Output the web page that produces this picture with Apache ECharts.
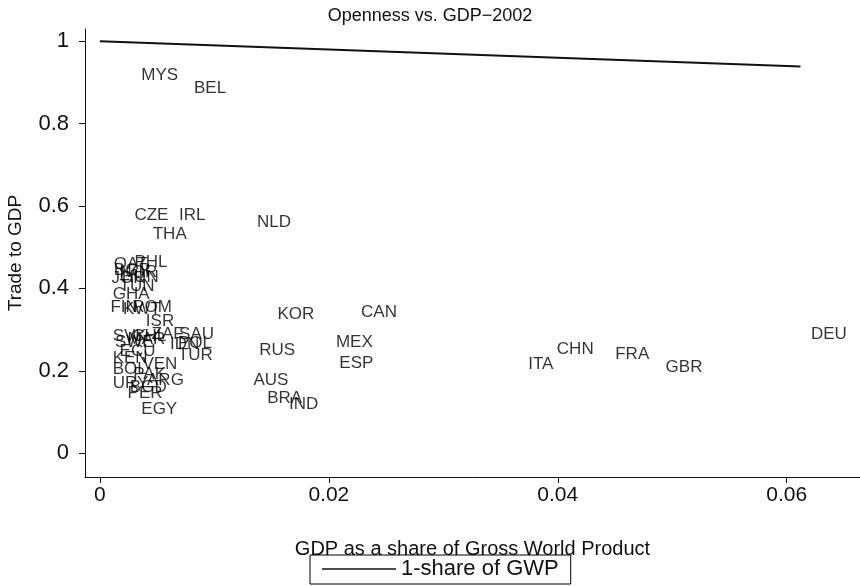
<!DOCTYPE html>
<html>
<head>
<meta charset="utf-8">
<script src="https://cdn.jsdelivr.net/npm/echarts@6/dist/echarts.min.js"></script>
<style>
html,body{margin:0;padding:0;background:#fff;}
#chart{width:860px;height:586px;}
</style>
</head>
<body>
<div id="chart"></div>
<script>
// Country codes
const countries = ["MYS","BEL","CZE","IRL","THA","NLD","KOR","CAN","MEX","ESP","RUS","AUS","BRA","IND","ITA","CHN","FRA","GBR","DEU",
  "QAT","PHL","BGR","NOR","JOR","HUN","TUN","GHA","FIN","KWT","ROM","ISR","ZAF","SAU","CHL","SVK","SWE","MAR","IDN","POL","ECU","TUR","KEN","VEN","BOL","PAK","ARG","URY","BGD","PER","EGY"];
// GDP as a share of Gross World Product
const gdpShare = [0.0027,0.0073,0.0021,0.0060,0.0037,0.0128,0.0146,0.0219,0.0197,0.0200,0.0130,0.0125,0.0137,0.0156,0.0365,0.0390,0.0441,0.0485,0.0612,
  0.0003,0.0021,0.0003,0.0008,0.0001,0.0010,0.0008,0.0002,0.0000,0.0011,0.0019,0.0031,0.0036,0.0060,0.0019,0.0002,0.0004,0.0015,0.0052,0.0059,0.0008,0.0059,0.0002,0.0028,0.0002,0.0020,0.0032,0.0002,0.0017,0.0015,0.0027];
// Trade to GDP
const tradeToGdp = [0.917,0.886,0.578,0.578,0.532,0.561,0.337,0.342,0.269,0.218,0.250,0.177,0.133,0.119,0.216,0.252,0.240,0.209,0.289,
  0.459,0.464,0.444,0.439,0.425,0.427,0.405,0.386,0.354,0.350,0.354,0.320,0.289,0.289,0.284,0.284,0.268,0.277,0.265,0.267,0.248,0.238,0.231,0.216,0.204,0.192,0.177,0.170,0.160,0.146,0.107];
// 1-share of GWP line (read from endpoints)
const lineX = [0.0000, 0.0612];
const lineY = [1.000, 0.939];
// ticks
const xTicks = [0, 0.02, 0.04, 0.06];
const yTicks = [0, 0.2, 0.4, 0.6, 0.8, 1];

const FONT = 'Liberation Sans, Arial, Helvetica, sans-serif';
const scatterData = countries.map((c, i) => [gdpShare[i], tradeToGdp[i], c]);
const lineData = lineX.map((x, i) => [x, lineY[i]]);

const chart = echarts.init(document.getElementById('chart'));
chart.setOption({
  animation: false,
  backgroundColor: '#fff',
  textStyle: { fontFamily: FONT },
  title: {
    text: 'Openness vs. GDP\u22122002',
    left: 'center', top: 2,
    textStyle: { fontSize: 18, fontWeight: 'normal', color: '#111', fontFamily: FONT }
  },
  grid: { left: 85, right: 0, top: 29, bottom: 109, containLabel: false, outerBoundsMode: 'none' },
  legend: {
    data: [{ name: '1-share of GWP', icon: 'rect' }],
    left: 310, top: 555,
    itemWidth: 74, itemHeight: 1.5, itemGap: 8,
    padding: [3, 12, 4, 12],
    borderColor: '#000', borderWidth: 1, borderRadius: 0,
    textStyle: { fontSize: 22, color: '#111', fontFamily: FONT }
  },
  xAxis: {
    type: 'value', min: -0.0013, max: 0.0664,
    name: 'GDP as a share of Gross World Product',
    nameLocation: 'middle', nameGap: 62,
    nameTextStyle: { fontSize: 20, color: '#111', fontFamily: FONT },
    axisLine: { show: true, onZero: false, lineStyle: { color: '#111', width: 1 } },
    axisTick: { show: true, length: 6, customValues: xTicks, lineStyle: { color: '#111' } },
    axisLabel: { customValues: xTicks, fontSize: 21, color: '#111', margin: 8, fontFamily: FONT,
      formatter: v => String(Math.round(v * 100) / 100) },
    splitLine: { show: false }
  },
  yAxis: {
    type: 'value', min: -0.058, max: 1.03,
    name: 'Trade to GDP',
    nameLocation: 'middle', nameGap: 60, nameRotate: 90,
    nameTextStyle: { fontSize: 19, color: '#111', fontFamily: FONT },
    axisLine: { show: true, onZero: false, lineStyle: { color: '#111', width: 1 } },
    axisTick: { show: true, length: 6, customValues: yTicks, lineStyle: { color: '#111' } },
    axisLabel: { customValues: yTicks, fontSize: 22, color: '#111', margin: 16, fontFamily: FONT,
      formatter: v => String(Math.round(v * 10) / 10) },
    splitLine: { show: false }
  },
  series: [
    {
      type: 'scatter',
      data: scatterData,
      symbolSize: 1,
      itemStyle: { color: 'rgba(0,0,0,0)' },
      label: {
        show: true, position: 'right', distance: 10,
        formatter: p => p.data[2],
        fontSize: 17, color: '#000', fontFamily: FONT
      },
      labelLayout: { hideOverlap: false },
      silent: true
    },
    {
      name: '1-share of GWP',
      type: 'line',
      data: lineData,
      symbol: 'none',
      color: '#111',
      lineStyle: { color: '#111', width: 2 },
      silent: true
    }
  ]
});
</script>
</body>
</html>
